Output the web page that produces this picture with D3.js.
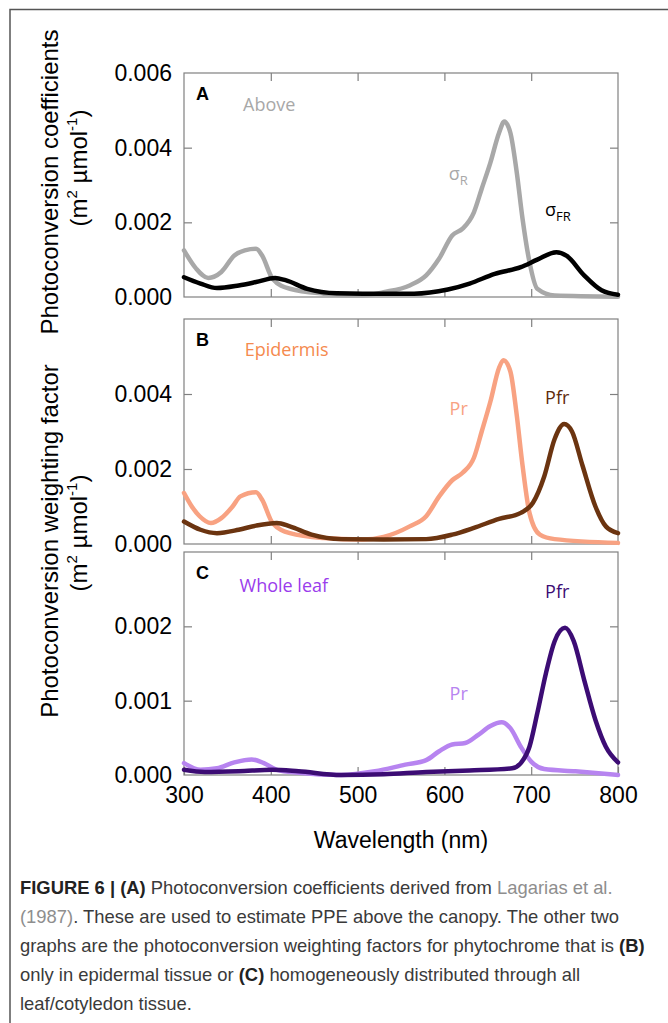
<!DOCTYPE html>
<html>
<head>
<meta charset="utf-8">
<script src="https://cdn.jsdelivr.net/npm/d3@7"></script>
<style>
body{margin:0;background:#fff}
svg{display:block}
</style>
</head>
<body>
<div id="chart"></div>
<script>
// x axis (wavelength, nm)
var xTicks = [300, 400, 500, 600, 700, 800]

// y tick labels / inner tick marks per panel
var yLabelsA = [0, 0.002, 0.004, 0.006]
var yLabelsB = [0, 0.002, 0.004]
var yLabelsC = [0, 0.001, 0.002]
var yMarksA = [0.002, 0.004]
var yMarksB = [0.002, 0.004]
var yMarksC = [0.001, 0.002]

// A - above the canopy: photoconversion coefficients [nm, value]
var sigmaR = [[300,0.00125],[314,0.00076],[328,0.00051],[343,0.00067],[358,0.00111],[370,0.00125],[383,0.00129],
  [390,0.00111],[402,0.00049],[422,0.00022],[461,0.00009],[506,0.00004],[530,0.00013],[560,0.00031],[579,0.00058],
  [594,0.00103],[609,0.00165],[621,0.00183],[634,0.00227],[643,0.0029],[653,0.0036],[663,0.0044],[669,0.0047],
  [676,0.0044],[683,0.0034],[690,0.0021],[698,0.00094],[707,0.00022],[727,0.00004],[800,0.00001]]
var sigmaFR = [[300,0.00053],[319,0.00036],[338,0.00024],[363,0.00031],[383,0.0004],[405,0.00051],[417,0.00045],
  [442,0.00022],[476,0.0001],[506,0.00009],[565,0.00009],[604,0.0002],[629,0.00036],[658,0.00062],[688,0.0008],
  [707,0.001],[729,0.0012],[741,0.0011],[761,0.00058],[781,0.00018],[800,0.00006]]

// B - epidermis: weighting factors
var prEpi = [[300,0.00136],[309,0.001],[318,0.00074],[331,0.00056],[343,0.00069],[356,0.001],[365,0.00127],
  [383,0.00138],[390,0.00118],[402,0.00056],[422,0.00029],[461,0.00016],[506,0.00012],[530,0.00019],[560,0.00047],
  [579,0.00074],[594,0.00127],[609,0.0017],[621,0.0019],[634,0.0023],[643,0.003],[653,0.0038],[663,0.0047],
  [668,0.0049],[676,0.0046],[683,0.0035],[690,0.0021],[698,0.00083],[710,0.00025],[727,0.00013],[800,0.00003]]
var pfrEpi = [[300,0.0006],[319,0.00038],[338,0.00029],[363,0.00038],[383,0.00049],[407,0.00056],[422,0.00047],
  [447,0.00025],[481,0.00013],[530,0.00012],[579,0.00013],[609,0.00025],[634,0.00043],[663,0.00067],[688,0.00083],
  [702,0.0011],[715,0.0018],[727,0.0028],[738,0.0032],[747,0.003],[759,0.0021],[774,0.001],[786,0.00047],[800,0.00029]]

// C - whole leaf: weighting factors
var prLeaf = [[300,0.00016],[319,0.00007],[338,0.00009],[358,0.00017],[378,0.00021],[392,0.00016],[407,0.00007],
  [432,0.00003],[481,0.0],[520,0.00005],[555,0.00014],[579,0.0002],[594,0.00032],[609,0.00041],[624,0.00043],
  [639,0.00054],[653,0.00066],[666,0.00071],[676,0.00063],[688,0.00038],[700,0.00018],[715,0.00008],[751,0.00005],[800,0.0]]
var pfrLeaf = [[300,0.00007],[324,0.00004],[363,0.00005],[402,0.00007],[432,0.00005],[481,0.0],[530,0.00001],
  [579,0.00004],[629,0.00006],[678,0.00009],[688,0.00016],[698,0.00038],[707,0.00083],[717,0.00137],[727,0.0018],
  [739,0.00198],[749,0.0018],[761,0.00128],[774,0.00074],[786,0.00038],[800,0.00017]]

var W = 668, H = 1023
var svg = d3.select("#chart").append("svg").attr("width", W).attr("height", H)

// outer figure frame (top + left only)
svg.append("path").attr("d", "M10,1023V9.5H668").attr("fill", "none").attr("stroke", "#555").attr("stroke-width", 1.5)

var x = d3.scaleLinear().domain([300, 800]).range([184, 618])
var axisFont = "Liberation Sans, Arial, sans-serif"
var noteFont = "Open Sans, sans-serif"

var panels = [
  {letter: "A", top: 73, bottom: 297, max: 0.006, labels: yLabelsA, marks: yMarksA,
   lines: [{d: sigmaR, c: "#a8a8a8"}, {d: sigmaFR, c: "#000"}],
   notes: [{t: "Above", x: 368, y: 0.00498, c: "#a8a8a8"},
           {t: "σ", sub: "R", x: 605, y: 0.00313, c: "#a8a8a8"},
           {t: "σ", sub: "FR", x: 716, y: 0.00217, c: "#000"}]},
  {letter: "B", top: 319, bottom: 544, max: 0.006, labels: yLabelsB, marks: yMarksB,
   lines: [{d: prEpi, c: "#f8a282"}, {d: pfrEpi, c: "#6b3410"}],
   notes: [{t: "Epidermis", x: 370, y: 0.00501, c: "#f58a4e"},
           {t: "Pr", x: 606, y: 0.00344, c: "#f8a282"},
           {t: "Pfr", x: 716, y: 0.00373, c: "#5e2c0c"}]},
  {letter: "C", top: 552, bottom: 775, max: 0.003, labels: yLabelsC, marks: yMarksC,
   lines: [{d: prLeaf, c: "#b784f0"}, {d: pfrLeaf, c: "#3c0c74"}],
   notes: [{t: "Whole leaf", x: 364, y: 0.00246, c: "#9a3cec"},
           {t: "Pr", x: 606, y: 0.00101, c: "#b784f0"},
           {t: "Pfr", x: 716, y: 0.00238, c: "#3c0c74"}]}
]

panels.forEach(function(p, i){
  var y = d3.scaleLinear().domain([0, p.max]).range([p.bottom, p.top])
  var g = svg.append("g").attr("class", "panel")

  // frame
  g.append("rect").attr("x", x(300)).attr("y", y(p.max)).attr("width", x(800) - x(300)).attr("height", y(0) - y(p.max))
    .attr("fill", "none").attr("stroke", "#808080").attr("stroke-width", 1.2)

  // inward ticks on all four sides
  var inner = [400, 500, 600, 700]
  g.append("g").attr("transform", "translate(0," + y(p.max) + ")")
    .call(d3.axisTop(x).tickValues(inner).tickSize(-8).tickFormat(""))
  g.append("g").attr("transform", "translate(0," + y(0) + ")")
    .call(d3.axisBottom(x).tickValues(i == 2 ? xTicks : inner).tickSize(-8).tickPadding(12)
      .tickFormat(i == 2 ? d3.format("d") : ""))
  g.append("g").attr("transform", "translate(" + x(800) + ",0)")
    .call(d3.axisRight(y).tickValues(p.marks).tickSize(-8).tickFormat(""))
  g.append("g").attr("class", "yax").attr("transform", "translate(" + x(300) + ",0)")
    .call(d3.axisLeft(y).tickValues(p.labels).tickSize(0).tickPadding(12).tickFormat(d3.format(".3f")))
  g.append("g").attr("transform", "translate(" + x(300) + ",0)")
    .call(d3.axisLeft(y).tickValues(p.marks).tickSize(-8).tickFormat(""))

  g.selectAll(".domain").remove()
  g.selectAll(".tick line").attr("stroke", "#808080").attr("stroke-width", 1.2)
  g.selectAll(".tick text").attr("font-family", axisFont).attr("font-size", 23).attr("fill", "#000")

  // curves
  var line = d3.line().x(function(d){ return x(d[0]) }).y(function(d){ return y(d[1]) }).curve(d3.curveMonotoneX)
  p.lines.forEach(function(s){
    g.append("path").datum(s.d).attr("d", line).attr("fill", "none").attr("stroke", s.c)
      .attr("stroke-width", 4.5).attr("stroke-linejoin", "round").attr("stroke-linecap", "round")
  })

  // panel letter
  g.append("text").attr("x", x(300) + 12).attr("y", y(p.max) + 27).text(p.letter)
    .attr("font-family", axisFont).attr("font-weight", "bold").attr("font-size", 18)

  // series notes
  p.notes.forEach(function(n){
    var t = g.append("text").attr("x", x(n.x)).attr("y", y(n.y)).attr("fill", n.c)
      .attr("font-family", noteFont).attr("font-size", 18)
    t.append("tspan").text(n.t)
    if (n.sub) t.append("tspan").attr("dy", 5).attr("font-size", 13).text(n.sub)
  })
})

// x axis title
svg.append("text").attr("x", x(550)).attr("y", 848).attr("text-anchor", "middle")
  .attr("font-family", axisFont).attr("font-size", 23).text("Wavelength (nm)")

// y axis titles (two lines each)
function yTitle(first, cy1, cy2){
  svg.append("text").attr("transform", "translate(58," + cy1 + ") rotate(-90)").attr("text-anchor", "middle")
    .attr("font-family", axisFont).attr("font-size", 24).text(first)
  var t = svg.append("text").attr("transform", "translate(87," + cy2 + ") rotate(-90)").attr("text-anchor", "middle")
    .attr("font-family", axisFont).attr("font-size", 24)
  t.append("tspan").text("(m")
  t.append("tspan").attr("dy", -10).attr("font-size", 15).text("2")
  t.append("tspan").attr("dy", 10).text("  µmol")
  t.append("tspan").attr("dy", -10).attr("font-size", 15).text("-1")
  t.append("tspan").attr("dy", 10).text(")")
}
yTitle("Photoconversion coefficients", 182, 168)
yTitle("Photoconversion weighting factor", 541, 533)

// caption
var capLines = [
  [["FIGURE 6 | (A)", "b"], [" Photoconversion coefficients derived from ", ""], ["Lagarias et al.", "l"]],
  [["(1987)", "l"], [". These are used to estimate PPE above the canopy. The other two", ""]],
  [["graphs are the photoconversion weighting factors for phytochrome that is ", ""], ["(B)", "b"]],
  [["only in epidermal tissue or ", ""], ["(C)", "b"], [" homogeneously distributed through all", ""]],
  [["leaf/cotyledon tissue.", ""]]
]
var cap = svg.append("g").attr("font-family", axisFont).attr("font-size", 17).attr("fill", "#3a3a3a")
var capTexts = capLines.map(function(parts, k){
  var t = cap.append("text").attr("x", 20).attr("y", 894 + k * 29)
  parts.forEach(function(s){
    var ts = t.append("tspan").text(s[0])
    if (s[1] == "b") ts.attr("font-weight", "bold").attr("fill", "#222")
    if (s[1] == "l") ts.attr("fill", "#8e8e8e")
  })
  return t
})
// fit the caption width to the reference (widest line ends near x=645)
var wide = capTexts[2].node().getComputedTextLength()
cap.attr("font-size", 17 * 625 / wide)
</script>
</body>
</html>
